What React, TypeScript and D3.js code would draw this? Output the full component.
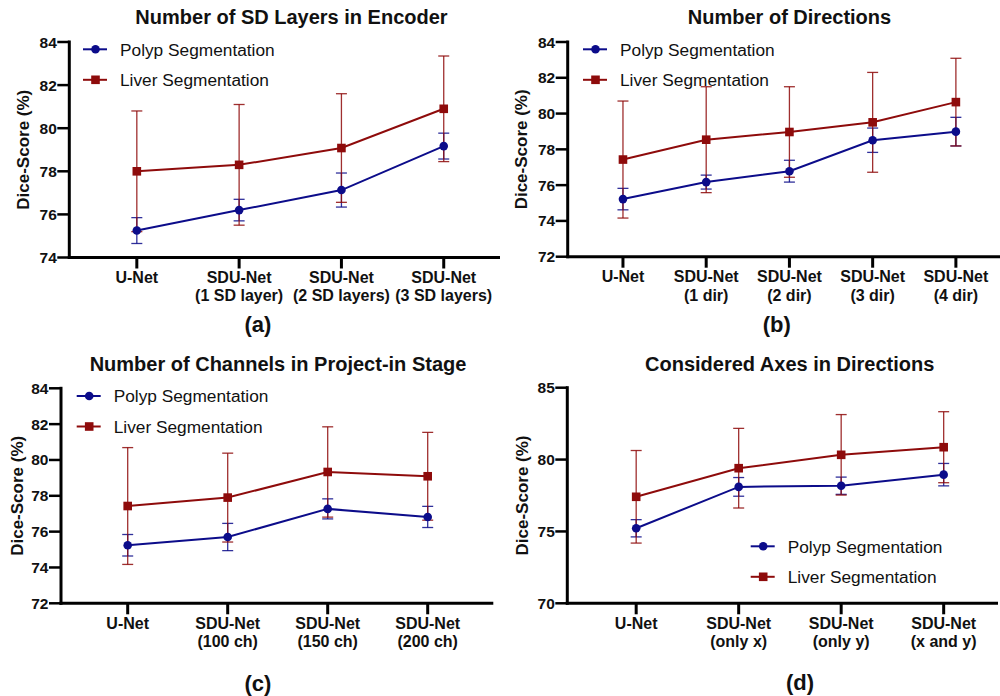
import React from "react";
import * as d3 from "d3";

// ---------- DATA ----------
const categoriesA = [["U-Net"], ["SDU-Net", "(1 SD layer)"], ["SDU-Net", "(2 SD layers)"], ["SDU-Net", "(3 SD layers)"]];
const polypA = [75.25, 76.2, 77.13, 79.17];
const polypErrA = [0.6, 0.5, 0.79, 0.6];
const liverA = [78.0, 78.3, 79.08, 80.9];
const liverErrA = [2.8, 2.8, 2.52, 2.45];
const ticksA = [74, 76, 78, 80, 82, 84];

const categoriesB = [["U-Net"], ["SDU-Net", "(1 dir)"], ["SDU-Net", "(2 dir)"], ["SDU-Net", "(3 dir)"], ["SDU-Net", "(4 dir)"]];
const polypB = [75.22, 76.17, 76.78, 78.51, 78.99];
const polypErrB = [0.6, 0.39, 0.61, 0.68, 0.8];
const liverB = [77.43, 78.54, 78.97, 79.51, 80.64];
const liverErrB = [3.27, 2.96, 2.53, 2.79, 2.45];
const ticksB = [72, 74, 76, 78, 80, 82, 84];

const categoriesC = [["U-Net"], ["SDU-Net", "(100 ch)"], ["SDU-Net", "(150 ch)"], ["SDU-Net", "(200 ch)"]];
const polypC = [75.24, 75.7, 77.27, 76.82];
const polypErrC = [0.6, 0.76, 0.56, 0.59];
const liverC = [77.43, 77.9, 79.33, 79.09];
const liverErrC = [3.26, 2.48, 2.52, 2.45];
const ticksC = [72, 74, 76, 78, 80, 82, 84];

const categoriesD = [["U-Net"], ["SDU-Net", "(only x)"], ["SDU-Net", "(only y)"], ["SDU-Net", "(x and y)"]];
const polypD = [75.22, 78.1, 78.18, 78.95];
const polypErrD = [0.6, 0.65, 0.6, 0.78];
const liverD = [77.41, 79.4, 80.33, 80.86];
const liverErrD = [3.22, 2.77, 2.8, 2.47];
const ticksD = [70, 75, 80, 85];

const seriesNames = ["Polyp Segmentation", "Liver Segmentation"];

// ---------- STYLE ----------
const BLUE = "#0c0c8a";
const RED = "#8e0b0b";
const FONT = "'Liberation Sans', Arial, sans-serif";

type PanelCfg = {
  title: string;
  titleX: number;
  titleY: number;
  label: string;
  labelX: number;
  labelY: number;
  axisX: number;
  axisEnd: number;
  yTop: number;
  yBottom: number;
  xDomain: [number, number];
  ticks: number[];
  cats: string[][];
  polyp: number[];
  polypErr: number[];
  liver: number[];
  liverErr: number[];
  legendX: number;
  legendY: number;
  yTitleX: number;
};

const panels: PanelCfg[] = [
  {
    title: "Number of SD Layers in Encoder", titleX: 291.5, titleY: 24,
    label: "(a)", labelX: 258, labelY: 332,
    axisX: 69.3, axisEnd: 500, yTop: 42, yBottom: 257.5, xDomain: [-0.66, 3.55],
    ticks: ticksA, cats: categoriesA, polyp: polypA, polypErr: polypErrA, liver: liverA, liverErr: liverErrA,
    legendX: 83, legendY: 49.3, yTitleX: 29,
  },
  {
    title: "Number of Directions", titleX: 789.5, titleY: 24,
    label: "(b)", labelX: 776.7, labelY: 332,
    axisX: 567.7, axisEnd: 1000, yTop: 42, yBottom: 256.7, xDomain: [-0.664, 4.53],
    ticks: ticksB, cats: categoriesB, polyp: polypB, polypErr: polypErrB, liver: liverB, liverErr: liverErrB,
    legendX: 583, legendY: 49.3, yTitleX: 527,
  },
  {
    title: "Number of Channels in Project-in Stage", titleX: 278, titleY: 370.7,
    label: "(c)", labelX: 258, labelY: 691,
    axisX: 61, axisEnd: 493.3, yTop: 388.3, yBottom: 603.3, xDomain: [-0.667, 3.656],
    ticks: ticksC, cats: categoriesC, polyp: polypC, polypErr: polypErrC, liver: liverC, liverErr: liverErrC,
    legendX: 76.7, legendY: 396, yTitleX: 23,
  },
  {
    title: "Considered Axes in Directions", titleX: 789.7, titleY: 370.7,
    label: "(d)", labelX: 800, labelY: 690,
    axisX: 567.3, axisEnd: 998, yTop: 387.7, yBottom: 603.3, xDomain: [-0.672, 3.53],
    ticks: ticksD, cats: categoriesD, polyp: polypD, polypErr: polypErrD, liver: liverD, liverErr: liverErrD,
    legendX: 750.7, legendY: 546.3, yTitleX: 528,
  },
];

function Panel({ cfg }: { cfg: PanelCfg }) {
  const x = d3.scaleLinear().domain(cfg.xDomain).range([cfg.axisX, cfg.axisEnd]);
  const yMin = cfg.ticks[0];
  const yMax = cfg.ticks[cfg.ticks.length - 1];
  const y = d3.scaleLinear().domain([yMin, yMax]).range([cfg.yBottom, cfg.yTop]);
  const line = d3
    .line<number>()
    .x((_, i) => x(i))
    .y((d) => y(d));

  const series = [
    { name: seriesNames[0], vals: cfg.polyp, errs: cfg.polypErr, color: BLUE, shape: "circle" },
    { name: seriesNames[1], vals: cfg.liver, errs: cfg.liverErr, color: RED, shape: "square" },
  ];
  const capW = 5.5;

  const marker = (shape: string, cx: number, cy: number, color: string, key: string) =>
    shape === "circle" ? (
      <circle key={key} cx={cx} cy={cy} r={4.3} fill={color} />
    ) : (
      <rect key={key} x={cx - 4.3} y={cy - 4.3} width={8.6} height={8.6} fill={color} />
    );

  const yCenter = (cfg.yTop + cfg.yBottom) / 2;

  return (
    <g>
      {/* title */}
      <text x={cfg.titleX} y={cfg.titleY} textAnchor="middle" fontFamily={FONT} fontWeight="bold" fontSize={20} fill="#111">
        {cfg.title}
      </text>
      {/* y axis title */}
      <text
        transform={`translate(${cfg.yTitleX},${yCenter}) rotate(-90)`}
        textAnchor="middle"
        fontFamily={FONT}
        fontWeight="bold"
        fontSize={17}
        fill="#111"
      >
        Dice-Score (%)
      </text>
      {/* error bars */}
      {series.map((s) =>
        s.vals.map((v, i) => {
          const cx = x(i);
          const t = y(v + s.errs[i]);
          const b = y(v - s.errs[i]);
          return (
            <g key={`e-${s.name}-${i}`} stroke={s.color} strokeWidth={1.3} strokeOpacity={0.85}>
              <line x1={cx} x2={cx} y1={t} y2={b} />
              <line x1={cx - capW} x2={cx + capW} y1={t} y2={t} />
              <line x1={cx - capW} x2={cx + capW} y1={b} y2={b} />
            </g>
          );
        })
      )}
      {/* lines */}
      {series.map((s) => (
        <path key={`l-${s.name}`} d={line(s.vals) || ""} fill="none" stroke={s.color} strokeWidth={2} />
      ))}
      {/* markers */}
      {series.map((s) => s.vals.map((v, i) => marker(s.shape, x(i), y(v), s.color, `m-${s.name}-${i}`)))}
      {/* axes */}
      <line x1={cfg.axisX} x2={cfg.axisX} y1={cfg.yTop - 1.5} y2={cfg.yBottom + 1.5} stroke="#000" strokeWidth={3} />
      <line x1={cfg.axisX - 1.5} x2={cfg.axisEnd} y1={cfg.yBottom} y2={cfg.yBottom} stroke="#000" strokeWidth={3} />
      {cfg.ticks.map((t) => (
        <g key={`yt-${t}`}>
          <line x1={cfg.axisX - 12} x2={cfg.axisX} y1={y(t)} y2={y(t)} stroke="#000" strokeWidth={2.5} />
          <text
            x={cfg.axisX - 12.5}
            y={y(t) + 5.5}
            textAnchor="end"
            fontFamily={FONT}
            fontWeight="bold"
            fontSize={15.5}
            fill="#111"
          >
            {t}
          </text>
        </g>
      ))}
      {cfg.cats.map((c, i) => (
        <g key={`xt-${i}`}>
          <line x1={x(i)} x2={x(i)} y1={cfg.yBottom} y2={cfg.yBottom + 11} stroke="#000" strokeWidth={3} />
          {c.map((ln, j) => (
            <text
              key={j}
              x={x(i)}
              y={cfg.yBottom + 25.5 + j * 18.3}
              textAnchor="middle"
              fontFamily={FONT}
              fontWeight="bold"
              fontSize={16}
              fill="#111"
            >
              {ln}
            </text>
          ))}
        </g>
      ))}
      {/* legend */}
      {series.map((s, k) => {
        const ly = cfg.legendY + k * 30.5;
        return (
          <g key={`lg-${s.name}`}>
            <line x1={cfg.legendX} x2={cfg.legendX + 24} y1={ly} y2={ly} stroke={s.color} strokeWidth={2} />
            {marker(s.shape, cfg.legendX + 12.5, ly, s.color, `lm-${k}`)}
            <text x={cfg.legendX + 37} y={ly + 6.3} fontFamily={FONT} fontSize={17.3} fill="#111">
              {s.name}
            </text>
          </g>
        );
      })}
      {/* subplot label */}
      <text x={cfg.labelX} y={cfg.labelY} textAnchor="middle" fontFamily={FONT} fontWeight="bold" fontSize={22} fill="#111">
        {cfg.label}
      </text>
    </g>
  );
}

export default function App() {
  return (
    <svg
      width={1000}
      height={696}
      viewBox="0 0 1000 696"
      style={{ position: "absolute", left: 0, top: 0, background: "#fff" }}
    >
      <rect width={1000} height={696} fill="#fff" />
      {panels.map((p) => (
        <Panel key={p.label} cfg={p} />
      ))}
    </svg>
  );
}
